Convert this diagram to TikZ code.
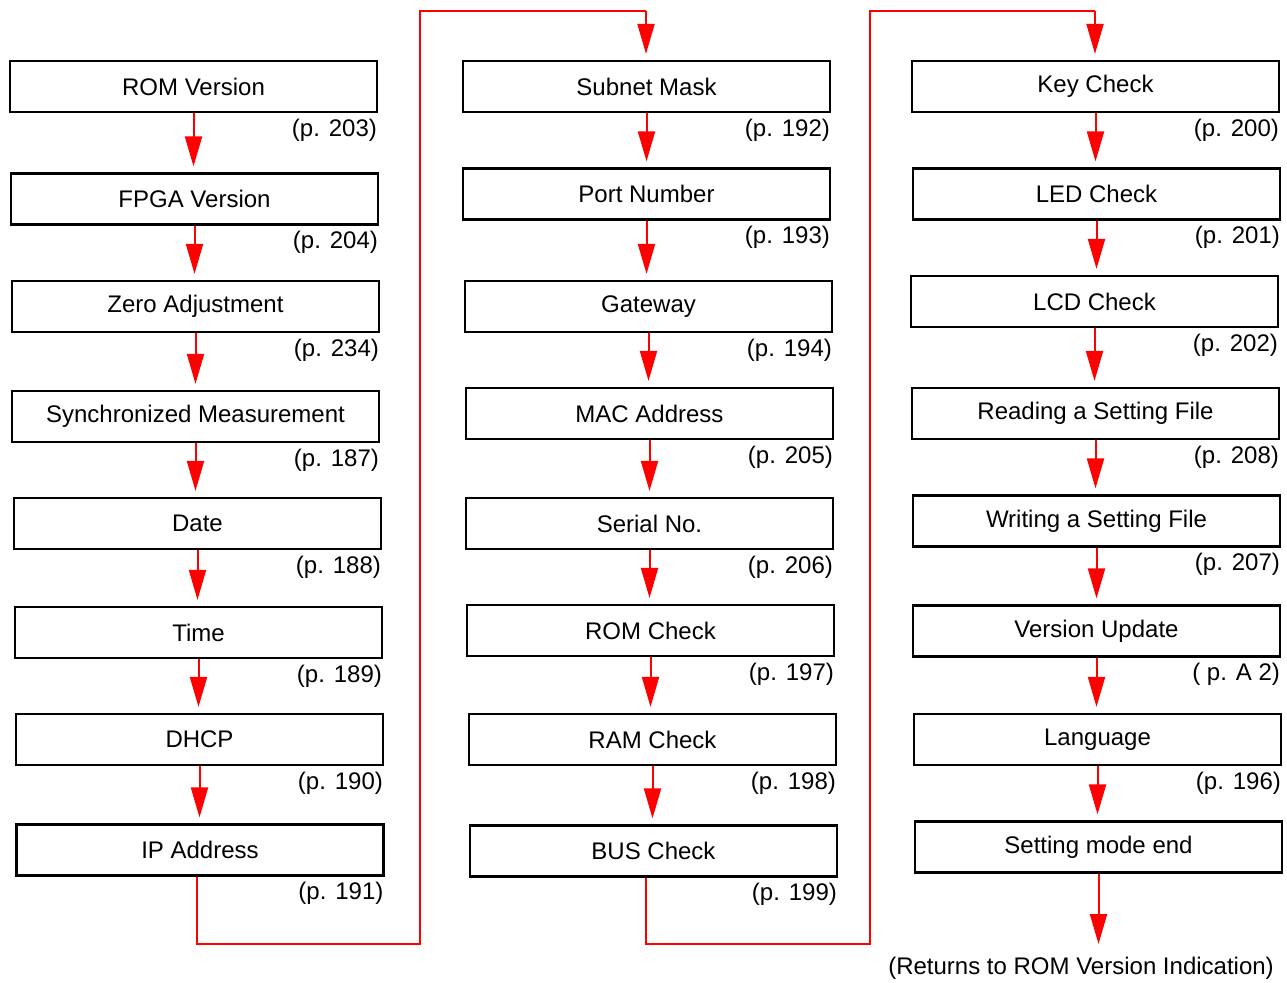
\documentclass[tikz,border=0pt]{standalone}
\usepackage{fontspec}
\setmainfont{Liberation Sans}
\usetikzlibrary{arrows.meta}
\begin{document}
\begin{tikzpicture}[x=1pt, y=-1pt, line join=miter,
    stage/.style={draw, line width=2.2pt, minimum width=367pt, minimum height=51pt,
      inner sep=0pt, font=\fontsize{24}{28}\selectfont},
    page/.style={anchor=east, inner sep=1pt, font=\fontsize{24}{28}\selectfont},
    flow/.style={red, line width=2pt, -{Triangle[length=30pt, width=17pt]}, shorten >=6pt},
    link/.style={red, line width=2pt}]
  \useasboundingbox (0,0) rectangle (1287,982);
  % first column
  \node[stage] (rom) at (193.5,86.5) {ROM Version};
  \node[stage] (fpga) at (194.5,199) {FPGA Version};
  \node[stage] (zero) at (195.5,306.5) {Zero Adjustment};
  \node[stage] (sync) at (195.5,416.5) {Synchronized Measurement};
  \node[stage] (date) at (197.5,523.5) {Date};
  \node[stage] (time) at (198.5,632.5) {Time};
  \node[stage] (dhcp) at (199.5,739.5) {DHCP};
  \node[stage] (ip) at (200,850) {IP Address};
  \node[page] at ([yshift=-17pt]rom.south east) {(p. 203)};
  \node[page] at ([yshift=-17pt]fpga.south east) {(p. 204)};
  \node[page] at ([yshift=-17pt]zero.south east) {(p. 234)};
  \node[page] at ([yshift=-17pt]sync.south east) {(p. 187)};
  \node[page] at ([yshift=-17pt]date.south east) {(p. 188)};
  \node[page] at ([yshift=-17pt]time.south east) {(p. 189)};
  \node[page] at ([yshift=-17pt]dhcp.south east) {(p. 190)};
  \node[page] at ([yshift=-17pt]ip.south east) {(p. 191)};
  % second column
  \node[stage] (mask) at (646.5,86.5) {Subnet Mask};
  \node[stage] (port) at (646.5,194) {Port Number};
  \node[stage] (gw) at (648.5,306.5) {Gateway};
  \node[stage] (mac) at (649.5,413.5) {MAC Address};
  \node[stage] (serial) at (649.5,523.5) {Serial No.};
  \node[stage] (romchk) at (650.5,630.5) {ROM Check};
  \node[stage] (ramchk) at (652.5,739.5) {RAM Check};
  \node[stage] (buschk) at (653.5,851) {BUS Check};
  \node[page] at ([yshift=-17pt]mask.south east) {(p. 192)};
  \node[page] at ([yshift=-17pt]port.south east) {(p. 193)};
  \node[page] at ([yshift=-17pt]gw.south east) {(p. 194)};
  \node[page] at ([yshift=-17pt]mac.south east) {(p. 205)};
  \node[page] at ([yshift=-17pt]serial.south east) {(p. 206)};
  \node[page] at ([yshift=-17pt]romchk.south east) {(p. 197)};
  \node[page] at ([yshift=-17pt]ramchk.south east) {(p. 198)};
  \node[page] at ([yshift=-17pt]buschk.south east) {(p. 199)};
  % third column
  \node[stage] (key) at (1095.5,86.5) {Key Check};
  \node[stage] (led) at (1096.5,194) {LED Check};
  \node[stage] (lcd) at (1094.5,301.5) {LCD Check};
  \node[stage] (rdfile) at (1095.5,413.5) {Reading a Setting File};
  \node[stage] (wrfile) at (1096.5,521) {Writing a Setting File};
  \node[stage] (verup) at (1096.5,631) {Version Update};
  \node[stage] (lang) at (1097.5,739.5) {Language};
  \node[stage] (modeend) at (1098.5,847) {Setting mode end};
  \node[page] at ([yshift=-17pt]key.south east) {(p. 200)};
  \node[page] at ([yshift=-17pt]led.south east) {(p. 201)};
  \node[page] at ([yshift=-17pt]lcd.south east) {(p. 202)};
  \node[page] at ([yshift=-17pt]rdfile.south east) {(p. 208)};
  \node[page] at ([yshift=-17pt]wrfile.south east) {(p. 207)};
  \node[page] at ([yshift=-17pt]verup.south east) {( p. A 2)};
  \node[page] at ([yshift=-17pt]lang.south east) {(p. 196)};
  \node[inner sep=0pt, font=\fontsize{24}{28}\selectfont] (back) at (1081,968)
    {(Returns to ROM Version Indication)};
  % arrows down each column
  \foreach \a/\b in {rom/fpga, fpga/zero, zero/sync, sync/date, date/time, time/dhcp,
      dhcp/ip, mask/port, port/gw, gw/mac, mac/serial, serial/romchk, romchk/ramchk,
      ramchk/buschk, key/led, led/lcd, lcd/rdfile, rdfile/wrfile, wrfile/verup,
      verup/lang, lang/modeend}
    \draw[flow] (\a.south) -- (\a.south |- \b.north);
  % links between columns
  \coordinate (low1) at (420,944);
  \coordinate (top1) at (646,11);
  \coordinate (low2) at (870,944);
  \coordinate (top2) at (1095,11);
  \coordinate (ret) at (1098.5,950);
  \draw[link] ([xshift=-3pt]ip.south) |- (low1) |- (top1);
  \draw[flow] (top1) -- (top1 |- mask.north);
  \draw[link] (buschk.south -| top1) |- (low2) |- (top2);
  \draw[flow] (top2) -- (top2 |- key.north);
  \draw[flow] (modeend.south) -- (ret);
\end{tikzpicture}
\end{document}
